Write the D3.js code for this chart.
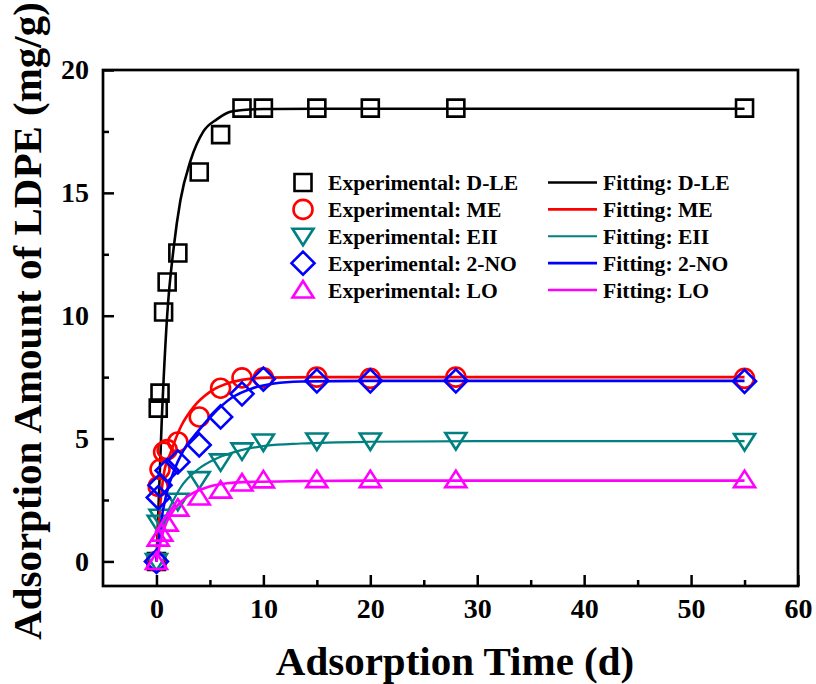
<!DOCTYPE html>
<html>
<head>
<meta charset="utf-8">
<script src="https://cdn.jsdelivr.net/npm/d3@7"></script>
<style>
  body { margin: 0; background: #fff; }
  svg { font-family: "Liberation Serif", "Times New Roman", serif; font-weight: bold; }
</style>
</head>
<body>
<svg width="816" height="684"></svg>
<script>
// experimental points (time in d, amount in mg/g)
var tDLE = [0, 0.167, 0.333, 0.667, 1, 2, 4, 6, 8, 10, 15, 20, 28, 55];
var qDLE = [0, 6.24, 6.85, 10.15, 11.37, 12.55, 15.85, 17.37, 18.45, 18.45, 18.45, 18.45, 18.45, 18.45];
var tME = [0, 0.167, 0.333, 0.667, 1, 2, 4, 6, 8, 10, 15, 20, 28, 55];
var qME = [0, 3.05, 3.75, 4.45, 4.55, 4.86, 5.88, 7.05, 7.47, 7.47, 7.5, 7.45, 7.5, 7.45];
var tEII = [0, 0.167, 0.333, 2, 4, 6, 8, 10, 15, 20, 28, 55];
var qEII = [0, 1.55, 1.8, 2.45, 3.33, 4.05, 4.5, 4.86, 4.9, 4.9, 4.92, 4.88];
var tNO = [0, 0.167, 0.333, 1, 2, 4, 6, 8, 10, 15, 20, 28, 55];
var qNO = [0, 2.6, 3.1, 3.7, 4.05, 4.74, 5.88, 6.82, 7.42, 7.35, 7.35, 7.35, 7.33];
var tLO = [0, 0.167, 0.5, 1, 2, 4, 6, 8, 10, 15, 20, 28, 55];
var qLO = [0, 0.95, 1.15, 1.56, 2.17, 2.62, 2.9, 3.19, 3.32, 3.33, 3.33, 3.33, 3.33];

// fitted curves
var ftDLE = [0, 0.5, 1, 1.62, 2.24, 3.18, 4.39, 5.67, 6.9, 8.1, 10, 15, 20, 30, 55];
var fqDLE = [0, 5.8, 10.0, 12.8, 14.7, 16.3, 17.5, 18.0, 18.3, 18.37, 18.41, 18.42, 18.42, 18.42, 18.42];
var ftME = [0, 0.3, 0.7, 1.3, 2.3, 3.5, 5, 6.9, 8.5, 10.3, 15, 55];
var fqME = [0, 2.0, 3.6, 4.4, 5.5, 6.3, 6.9, 7.28, 7.42, 7.48, 7.5, 7.5];
var ftEII = [0, 0.5, 1, 1.6, 2.24, 3.8, 5.67, 7.85, 10.3, 13.5, 20, 30, 55];
var fqEII = [0, 1.2, 1.95, 2.5, 3.0, 3.72, 4.2, 4.52, 4.71, 4.8, 4.87, 4.9, 4.9];
var ftNO = [0, 0.5, 1, 1.6, 2.5, 3.8, 5.2, 7, 9, 11, 13.5, 20, 55];
var fqNO = [0, 1.8, 2.85, 3.65, 4.5, 5.25, 5.95, 6.65, 7.05, 7.24, 7.32, 7.35, 7.35];
var ftLO = [0, 0.68, 1.62, 2.86, 4.42, 6.6, 9.1, 13.5, 20, 55];
var fqLO = [0, 1.28, 2.09, 2.63, 2.97, 3.18, 3.24, 3.27, 3.29, 3.29];

var xTicks = [0, 10, 20, 30, 40, 50, 60];
var xMinor = [5, 15, 25, 35, 45, 55];
var yTicks = [0, 5, 10, 15, 20];
var yMinor = [2.5, 7.5, 12.5, 17.5];

var names = ['D-LE', 'ME', 'EII', '2-NO', 'LO'];
var colors = ['#000000', '#ff0000', '#008080', '#0000ff', '#ff00ff'];
var shapes = ['square', 'circle', 'down', 'diamond', 'up'];

var series = [
    { t: tDLE, q: qDLE, ft: ftDLE, fq: fqDLE },
    { t: tME, q: qME, ft: ftME, fq: fqME },
    { t: tEII, q: qEII, ft: ftEII, fq: fqEII },
    { t: tNO, q: qNO, ft: ftNO, fq: fqNO },
    { t: tLO, q: qLO, ft: ftLO, fq: fqLO }
];

var svg = d3.select('svg');
// plot box edges (note: "top" is reserved on window, so use p* names)
var pLeft = 103, pRight = 798, pTop = 70, pBottom = 586;

var xScale = d3.scaleLinear().domain([-5, 60]).range([pLeft, pRight]);
var yScale = d3.scaleLinear().domain([-1, 20]).range([pBottom, pTop]);

// marker outline paths centred on 0,0
function markerPath(shape) {
    if (shape == 'square') return 'M-8.5,-8.5H8.5V8.5H-8.5Z';
    if (shape == 'circle') return 'M9.5,0A9.5,9.5 0 1,1 -9.5,0A9.5,9.5 0 1,1 9.5,0Z';
    if (shape == 'diamond') return 'M0,-11.5L11.5,0L0,11.5L-11.5,0Z';
    if (shape == 'down') return 'M-10.5,-7.5L10.5,-7.5L0,9Z';
    return 'M-10.5,7.5L10.5,7.5L0,-9Z';
}

// axes with inward ticks
var gx = svg.append('g').attr('transform', 'translate(0,' + pBottom + ')');
gx.call(d3.axisBottom(xScale).tickValues(xTicks).tickSize(-11).tickPadding(24));
gx.append('g').call(d3.axisBottom(xScale).tickValues(xMinor).tickSize(-6).tickFormat(''));

var gy = svg.append('g').attr('transform', 'translate(' + pLeft + ',0)');
gy.call(d3.axisLeft(yScale).tickValues(yTicks).tickSize(-11).tickPadding(14));
gy.append('g').call(d3.axisLeft(yScale).tickValues(yMinor).tickSize(-6).tickFormat(''));

svg.selectAll('.domain').remove();
svg.selectAll('.tick line').attr('stroke', '#000').attr('stroke-width', 2.5);
svg.selectAll('.tick text').
    attr('font-family', '"Liberation Serif", "Times New Roman", serif').
    attr('font-weight', 'bold').
    attr('font-size', '28px').
    attr('fill', '#000');
gx.selectAll('.tick text').attr('dy', '0.3em');

// frame
svg.append('rect').
    attr('x', pLeft).attr('y', pTop).
    attr('width', pRight - pLeft).attr('height', pBottom - pTop).
    attr('fill', 'none').attr('stroke', '#000').attr('stroke-width', 2.7);

// data: scatter then fit line for each series
var line = d3.line().
    x(function (d) { return xScale(d[0]); }).
    y(function (d) { return yScale(d[1]); }).
    curve(d3.curveMonotoneX);

var plot = svg.append('g');
series.forEach(function (s, i) {
    var pts = s.t.map(function (t, j) { return [t, s.q[j]]; });
    plot.selectAll('.pt' + i).
        data(pts).
        enter().append('path').
        attr('class', 'pt' + i).
        attr('d', markerPath(shapes[i])).
        attr('transform', function (d) { return 'translate(' + xScale(d[0]) + ',' + yScale(d[1]) + ')'; }).
        attr('fill', 'none').
        attr('stroke', colors[i]).
        attr('stroke-width', 2.6);
    var fit = s.ft.map(function (t, j) { return [t, s.fq[j]]; });
    plot.append('path').
        datum(fit).
        attr('d', line).
        attr('fill', 'none').
        attr('stroke', colors[i]).
        attr('stroke-width', i == 2 ? 2.2 : 2.6);
});

// legend
var legend = svg.append('g');
var rowY = d3.scaleLinear().domain([0, 4]).range([182.5, 290]);
names.forEach(function (n, i) {
    var y = rowY(i);
    legend.append('path').
        attr('d', markerPath(shapes[i])).
        attr('transform', 'translate(303,' + y + ')').
        attr('fill', 'none').attr('stroke', colors[i]).attr('stroke-width', 2.6);
    legend.append('text').
        attr('x', 328).attr('y', y).attr('dy', '0.35em').
        attr('font-size', '21.6px').
        text('Experimental: ' + n);
    legend.append('line').
        attr('x1', 548).attr('x2', 597).attr('y1', y).attr('y2', y).
        attr('stroke', colors[i]).attr('stroke-width', i == 2 ? 2 : 2.6);
    legend.append('text').
        attr('x', 603).attr('y', y).attr('dy', '0.35em').
        attr('font-size', '21.6px').
        text('Fitting: ' + n);
});

// axis titles
svg.append('text').
    attr('x', 455).attr('y', 675).
    attr('text-anchor', 'middle').
    attr('font-size', '41px').
    text('Adsorption Time (d)');

svg.append('text').
    attr('transform', 'translate(41,' + 321 + ') rotate(-90)').
    attr('text-anchor', 'middle').
    attr('font-size', '41px').
    text('Adsorption Amount of LDPE (mg/g)');
</script>
</body>
</html>
